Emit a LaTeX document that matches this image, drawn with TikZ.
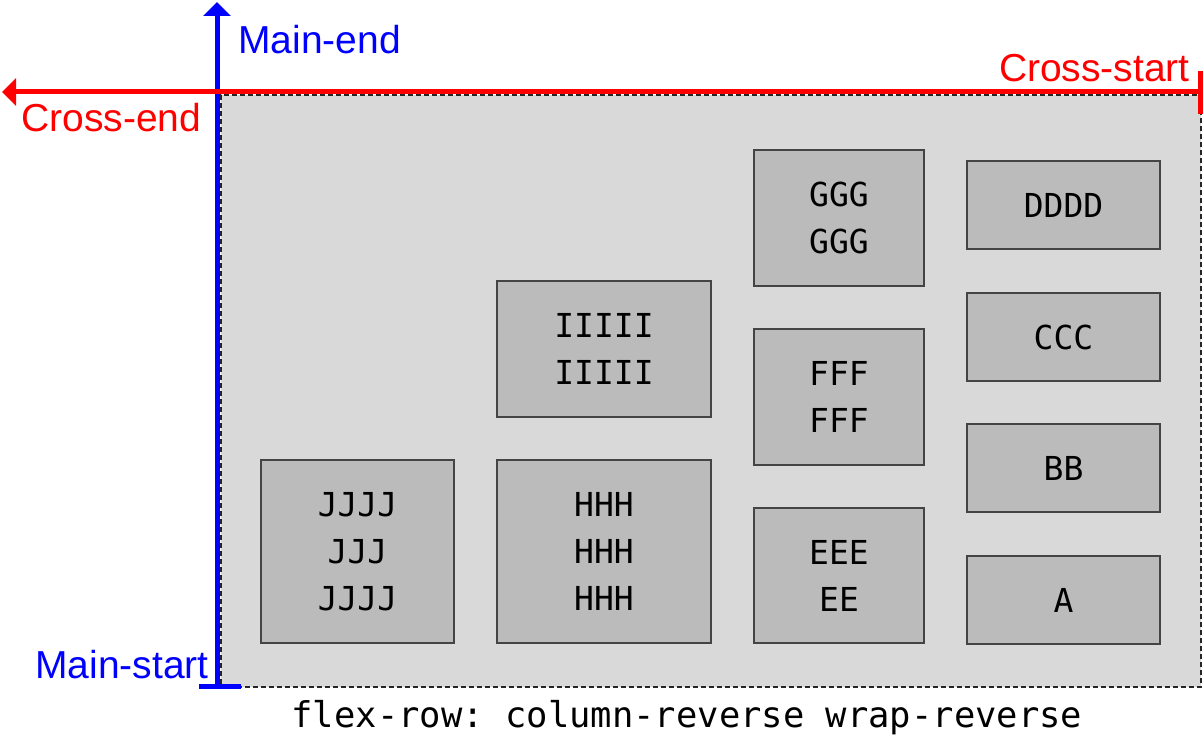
\documentclass[tikz,border=0pt]{standalone}
\usepackage{fontspec}
\setmainfont{Liberation Sans}
\newfontfamily\boxmono{DejaVu Sans Mono}
\usetikzlibrary{arrows.meta}
\definecolor{contbg}{HTML}{D9D9D9}
\definecolor{itembg}{HTML}{BBBBBB}
\definecolor{itemline}{HTML}{444444}
\begin{document}
\begin{tikzpicture}[x=1pt,y=-1pt,
  item/.style={draw=itemline,line width=1.8pt,fill=itembg,align=center,inner sep=0pt,
    font=\boxmono\fontsize{33}{47}\selectfont},
  lbl/.style={font=\fontsize{39}{40}\selectfont,inner sep=0pt},
  axis/.style={line width=5pt},
  tip/.style={-{Triangle[width=27pt,length=14pt]}}]
\useasboundingbox (0,0) rectangle (1203,741);
% container
\node[draw=black!85,dash pattern=on 5pt off 3pt,line width=1.8pt,fill=contbg,
  minimum width=980pt,minimum height=592pt,inner sep=0pt,anchor=north west] (cont) at (220,94) {};
% items
\node[item,minimum width=193pt,minimum height=88pt] (D) at (1063.5,205) {DDDD};
\node[item,minimum width=193pt,minimum height=88pt] (C) at (1063.5,337) {CCC};
\node[item,minimum width=193pt,minimum height=88pt] (B) at (1063.5,468) {BB};
\node[item,minimum width=193pt,minimum height=88pt] (A) at (1063.5,600) {A};
\node[item,minimum width=170pt,minimum height=136pt] (G) at (839,218) {GGG\\GGG};
\node[item,minimum width=170pt,minimum height=136pt] (F) at (839,397) {FFF\\FFF};
\node[item,minimum width=170pt,minimum height=135pt] (E) at (839,575.5) {EEE\\EE};
\node[item,minimum width=214pt,minimum height=136pt] (I) at (604,349) {IIIII\\IIIII};
\node[item,minimum width=214pt,minimum height=183pt] (H) at (604,551.5) {HHH\\HHH\\HHH};
\node[item,minimum width=193pt,minimum height=183pt] (J) at (357.5,551.5) {JJJJ\\JJJ\\JJJJ};
% axes
\coordinate (mstart) at (217,686);
\coordinate (mend) at (217,2);
\coordinate (mtl) at (199,686);
\coordinate (mtr) at (241,686);
\draw[axis,blue,tip] (mstart) -- (mend);
\draw[axis,blue] (mtl) -- (mtr);
\coordinate (cstart) at (1200,92);
\coordinate (cend) at (2,92);
\coordinate (ctt) at (1200,71);
\coordinate (ctb) at (1200,114);
\draw[axis,red,tip] (cstart) -- (cend);
\draw[axis,red] (ctt) -- (ctb);
% labels
\node[lbl,blue,anchor=west] (lme) at (238,40) {Main-end};
\node[lbl,blue,anchor=east] (lms) at (209,665) {Main-start};
\node[lbl,red,anchor=east] (lcs) at (1190,68) {Cross-start};
\node[lbl,red,anchor=west] (lce) at (21,118) {Cross-end};
\node[font=\boxmono\fontsize{35.5}{36}\selectfont,inner sep=0pt] (cap) at (687,718) {\frenchspacing flex-row: column-reverse wrap-reverse};
\end{tikzpicture}
\end{document}
